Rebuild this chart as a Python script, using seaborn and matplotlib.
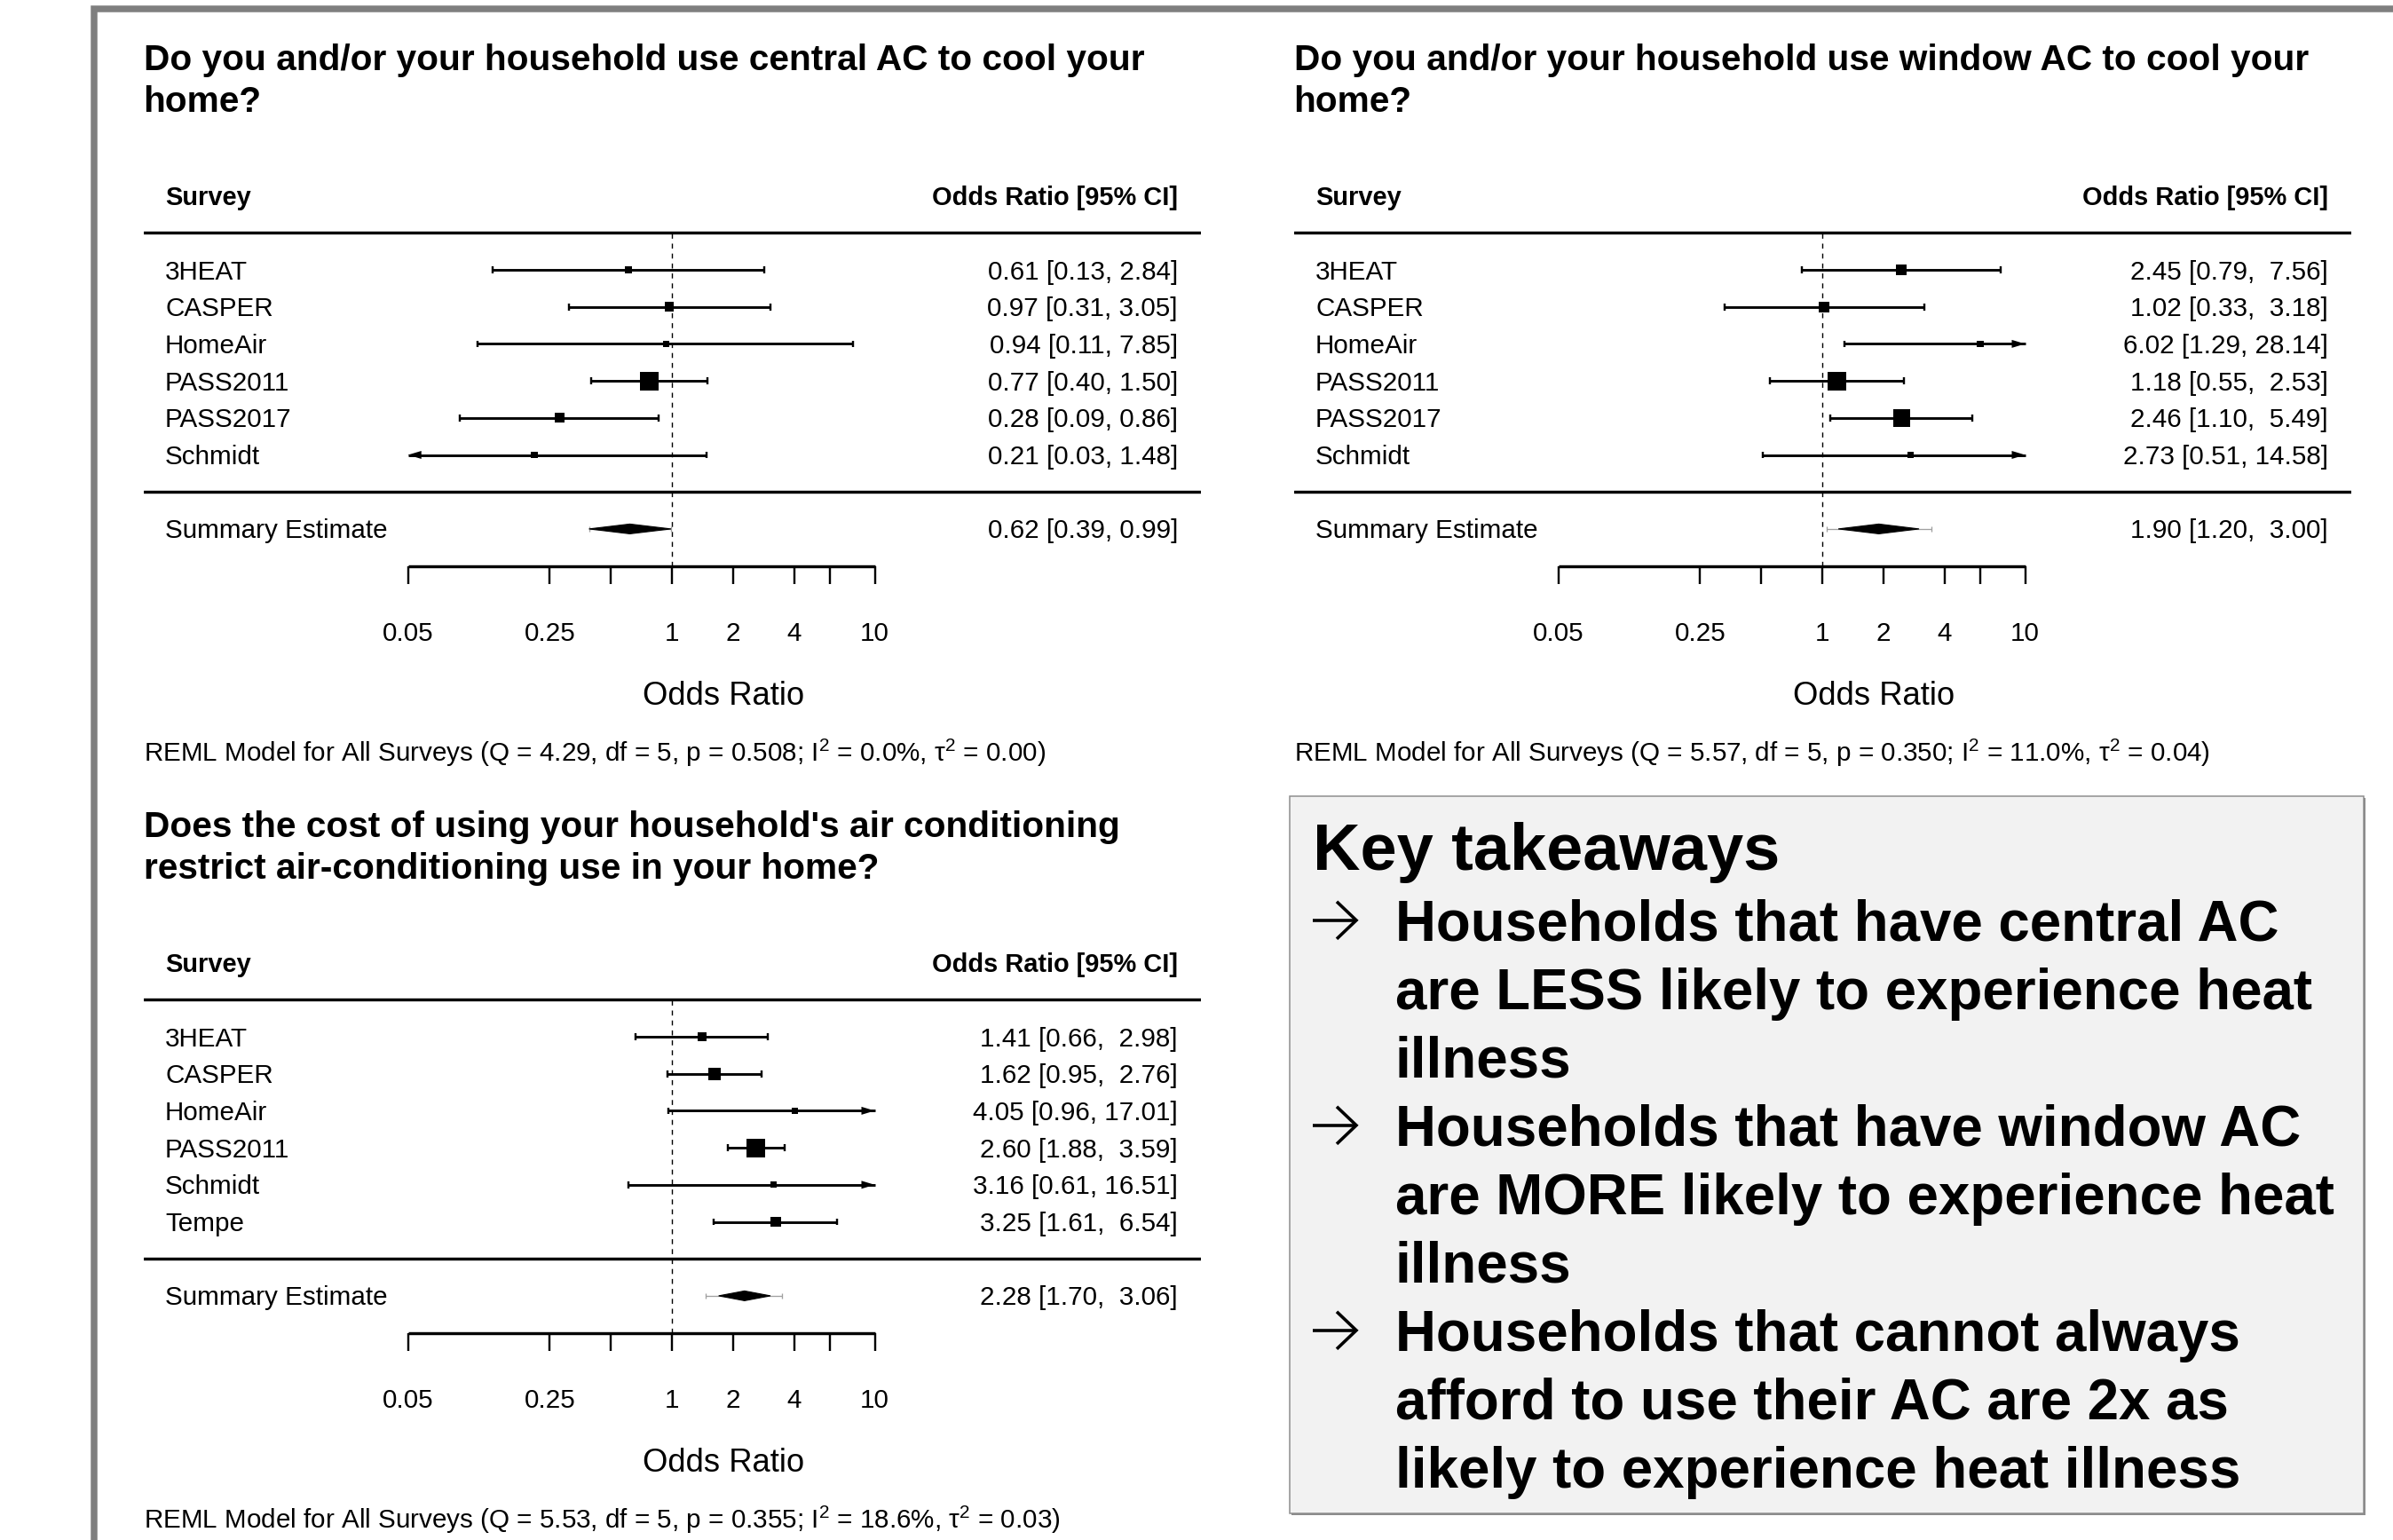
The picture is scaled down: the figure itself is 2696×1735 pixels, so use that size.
import numpy as np
import pandas as pd
import matplotlib
matplotlib.use("Agg")
import matplotlib.pyplot as plt
from matplotlib.patches import Rectangle, Polygon
from matplotlib.lines import Line2D
import seaborn as sns

# ---------------- data ----------------
central_title = ["Do you and/or your household use central AC to cool your", "home?"]
central_studies = ["3HEAT", "CASPER", "HomeAir", "PASS2011", "PASS2017", "Schmidt"]
central_or = [0.61, 0.97, 0.94, 0.77, 0.28, 0.21]
central_lo = [0.13, 0.31, 0.11, 0.40, 0.09, 0.03]
central_hi = [2.84, 3.05, 7.85, 1.50, 0.86, 1.48]
central_summary = [0.62, 0.39, 0.99]
central_pred = [0.39, 0.99]
central_stats = [4.29, 5, 0.508, 0.0, 0.00]   # Q, df, p, I2, tau2

window_title = ["Do you and/or your household use window AC to cool your", "home?"]
window_studies = ["3HEAT", "CASPER", "HomeAir", "PASS2011", "PASS2017", "Schmidt"]
window_or = [2.45, 1.02, 6.02, 1.18, 2.46, 2.73]
window_lo = [0.79, 0.33, 1.29, 0.55, 1.10, 0.51]
window_hi = [7.56, 3.18, 28.14, 2.53, 5.49, 14.58]
window_summary = [1.90, 1.20, 3.00]
window_pred = [1.05, 3.45]
window_stats = [5.57, 5, 0.350, 11.0, 0.04]

cost_title = ["Does the cost of using your household's air conditioning",
              "restrict air-conditioning use in your home?"]
cost_studies = ["3HEAT", "CASPER", "HomeAir", "PASS2011", "Schmidt", "Tempe"]
cost_or = [1.41, 1.62, 4.05, 2.60, 3.16, 3.25]
cost_lo = [0.66, 0.95, 0.96, 1.88, 0.61, 1.61]
cost_hi = [2.98, 2.76, 17.01, 3.59, 16.51, 6.54]
cost_summary = [2.28, 1.70, 3.06]
cost_pred = [1.47, 3.50]
cost_stats = [5.53, 5, 0.355, 18.6, 0.03]

tick_values = [0.05, 0.25, 0.5, 1, 2, 4, 6, 10]
tick_labels = ["0.05", "0.25", "", "1", "2", "4", "", "10"]

takeaway_head = "Key takeaways"
takeaway_lines = [
    (True, "Households that have central AC"),
    (False, "are LESS likely to experience heat"),
    (False, "illness"),
    (True, "Households that have window AC"),
    (False, "are MORE likely to experience heat"),
    (False, "illness"),
    (True, "Households that cannot always"),
    (False, "afford to use their AC are 2x as"),
    (False, "likely to experience heat illness"),
]

# ---------------- figure setup ----------------
sns.set_theme(style="white")
plt.rcParams["font.family"] = ["Liberation Sans", "DejaVu Sans"]
plt.rcParams["mathtext.fontset"] = "custom"
plt.rcParams["mathtext.rm"] = "Liberation Sans"
plt.rcParams["mathtext.it"] = "Liberation Sans:italic"

W, H = 2696, 1735
DPI = 100
fig = plt.figure(figsize=(W / DPI, H / DPI), dpi=DPI)
fig.patch.set_facecolor("white")

PT = 72.0 / DPI          # points per pixel
ROW = 41.7               # pixels per forest-plot row
DEC = 228.5              # pixels per decade on the odds-ratio axis
F_BASE = 29.6
F_HEAD = 29.0
F_TITLE = 40.6
F_XLAB = 36.4


def ftext(x, y_base, s, size_px, weight="normal", ha="left", color="black"):
    fig.text(x / W, 1 - y_base / H, s, fontsize=size_px * PT, fontweight=weight,
             ha=ha, va="baseline", color=color)


def ctext(x, y_center, s, size_px, **kw):
    # place text so that its capitals are centred on y_center
    ftext(x, y_center + 0.358 * size_px, s, size_px, **kw)


def fline(xs, ys, lw_px, color="black"):
    fig.add_artist(Line2D([x / W for x in xs], [1 - y / H for y in ys],
                          transform=fig.transFigure, color=color, lw=lw_px * PT,
                          solid_capstyle="butt", solid_joinstyle="miter", zorder=5))


def ci_labels(est, lo, hi):
    e = [f"{v:.2f}" for v in est]
    l = [f"{v:.2f}" for v in lo]
    h = [f"{v:.2f}" for v in hi]
    we, wl, wh = max(map(len, e)), max(map(len, l)), max(map(len, h))
    return [f"{a:>{we}} [{b:>{wl}}, {c:>{wh}}]" for a, b, c in zip(e, l, h)]


def forest(ox, oy, title, studies, ors, los, his, summary, pred, stats):
    y6 = 304 + oy
    xc = 757 + ox
    x0, x1 = 161.6 + ox, 1353 + ox

    def rpx(r):
        return y6 + (6 - r) * ROW

    # titles
    ftext(x0, 79 + oy, title[0], F_TITLE, weight="bold")
    ftext(x0, 126 + oy, title[1], F_TITLE, weight="bold")

    # plotting region for the marks
    r_top, r_bot = 7.6, -2.8
    yt, yb = rpx(r_top), rpx(r_bot)
    ax = fig.add_axes([x0 / W, 1 - yb / H, (x1 - x0) / W, (yb - yt) / H])
    xlim = (10 ** ((x0 - xc) / DEC), 10 ** ((x1 - xc) / DEC))

    k = len(studies)
    rows = np.arange(k, 0, -1)
    ors, los, his = np.array(ors), np.array(los), np.array(his)
    xmin, xmax = tick_values[0], tick_values[-1]

    # square markers sized by random-effects weight
    tau2 = stats[4]
    vi = ((np.log(his) - np.log(los)) / (2 * 1.96)) ** 2
    wi = 1.0 / (vi + tau2)
    psize = 0.5 + (wi - wi.min()) / (wi.max() - wi.min())
    side_pt = 14.0 * psize * PT
    area = side_pt ** 2
    df = pd.DataFrame({"or": ors, "row": rows, "area": area})
    sns.scatterplot(data=df, x="or", y="row", size="area",
                    sizes=(area.min(), area.max()), size_norm=(area.min(), area.max()),
                    marker="s", color="black", linewidth=0, legend=False, ax=ax, zorder=4)
    ax.set_xscale("log")
    ax.set_xlim(*xlim)
    ax.set_ylim(r_bot, r_top)
    ax.axis("off")

    # separators and reference line
    ax.axhline(k + 1, color="black", lw=3.4 * PT, zorder=2)
    ax.axhline(0, color="black", lw=3.4 * PT, zorder=2)
    ax.vlines(1, -2, k + 1, colors="black", linestyles=(0, (4, 4)), lw=1.4 * PT, zorder=1)

    # confidence intervals
    cap_h = 3.8 / ROW
    ah_len = 10 ** (15 / DEC)
    ah_half = 4.5 / ROW
    for r, lo, hi in zip(rows, los, his):
        a, b = max(lo, xmin), min(hi, xmax)
        ax.hlines(r, a, b, colors="black", lw=2.9 * PT, zorder=2)
        if lo < xmin:
            ax.add_patch(Polygon([(xmin, r), (xmin * ah_len, r + ah_half), (xmin * ah_len, r - ah_half)],
                                 closed=True, color="black", lw=0, zorder=3))
        else:
            ax.vlines(lo, r - cap_h, r + cap_h, colors="black", lw=2.4 * PT, zorder=2)
        if hi > xmax:
            ax.add_patch(Polygon([(xmax, r), (xmax / ah_len, r + ah_half), (xmax / ah_len, r - ah_half)],
                                 closed=True, color="black", lw=0, zorder=3))
        else:
            ax.vlines(hi, r - cap_h, r + cap_h, colors="black", lw=2.4 * PT, zorder=2)

    # prediction interval and summary diamond
    est, slo, shi = summary
    pc = "#a0a0a0"
    ax.hlines(-1, pred[0], pred[1], colors=pc, lw=1.3 * PT, zorder=2)
    ax.vlines(pred, -1 - 3 / ROW, -1 + 3 / ROW, colors=pc, lw=1.3 * PT, zorder=2)
    dh = 5.5 / ROW
    ax.add_patch(Polygon([(slo, -1), (est, -1 + dh), (shi, -1), (est, -1 - dh)],
                         closed=True, color="black", lw=0.8, zorder=3))

    # odds-ratio axis
    ax.hlines(-2, xmin, xmax, colors="black", lw=3.4 * PT, zorder=2)
    ax.vlines(tick_values, -2.5, -2, colors="black", lw=2.4 * PT, zorder=2)
    for tv, tl in zip(tick_values, tick_labels):
        if tl:
            xp = xc + np.log10(tv) * DEC
            ctext(xp, rpx(-3.777), tl, F_BASE, ha="center")

    # text columns
    ctext(186 + ox, rpx(k + 2), "Survey", F_HEAD, weight="bold")
    ctext(1327 + ox, rpx(k + 2), "Odds Ratio [95% CI]", F_HEAD, weight="bold", ha="right")
    labels = ci_labels(list(ors) + [est], list(los) + [slo], list(his) + [shi])
    for r, name, lab in zip(rows, studies, labels[:-1]):
        ctext(186 + ox, rpx(r), name, F_BASE)
        ctext(1327 + ox, rpx(r), lab, F_BASE, ha="right")
    ctext(186 + ox, rpx(-1), "Summary Estimate", F_BASE)
    ctext(1327 + ox, rpx(-1), labels[-1], F_BASE, ha="right")

    ftext(815 + ox, 793.6 + oy, "Odds Ratio", F_XLAB, ha="center")

    Q, dfree, p, I2, t2 = stats
    reml = (f"REML Model for All Surveys (Q = {Q:.2f}, df = {dfree}, p = {p:.3f}; "
            f"I$^{{2}}$ = {I2:.1f}%, \u03c4$^{{2}}$ = {t2:.2f})")
    ftext(x0, 858.4 + oy, reml, F_BASE)


# outer slide frame
fig.add_artist(Rectangle((105.75 / W, 1 - 1800 / H), (2800 - 105.75) / W, (1800 - 10) / H,
                         transform=fig.transFigure, fill=False, edgecolor="#7f7f7f",
                         lw=7.5 * PT, zorder=0))

forest(0, 0, central_title, central_studies, central_or, central_lo, central_hi,
       central_summary, central_pred, central_stats)
forest(1296, 0, window_title, window_studies, window_or, window_lo, window_hi,
       window_summary, window_pred, window_stats)
forest(0, 864, cost_title, cost_studies, cost_or, cost_lo, cost_hi,
       cost_summary, cost_pred, cost_stats)

# key takeaways box
bx0, by0, bx1, by1 = 1453, 897, 2663, 1705
fig.add_artist(Rectangle(((bx0 + 2) / W, 1 - (by1 + 2) / H), (bx1 - bx0) / W, (by1 - by0) / H,
                         transform=fig.transFigure, facecolor="#8c8c8c", edgecolor="none", zorder=1))
fig.add_artist(Rectangle((bx0 / W, 1 - by1 / H), (bx1 - bx0) / W, (by1 - by0) / H,
                         transform=fig.transFigure, facecolor="#f2f2f2", edgecolor="#8c8c8c",
                         lw=1.5 * PT, zorder=2))

ftext(1479, 980, takeaway_head, 74.0, weight="bold")
for i, (bullet, line) in enumerate(takeaway_lines):
    yb = 1059.6 + i * 77.0
    if bullet:
        yc = yb - 22.8
        fline([1479, 1527], [yc, yc], 3.6)
        fline([1506, 1528, 1506], [yc - 21, yc, yc + 21], 3.6)
    ftext(1572, yb, line, 63.6, weight="bold")

fig.savefig("out.png", dpi=DPI, facecolor="white")
